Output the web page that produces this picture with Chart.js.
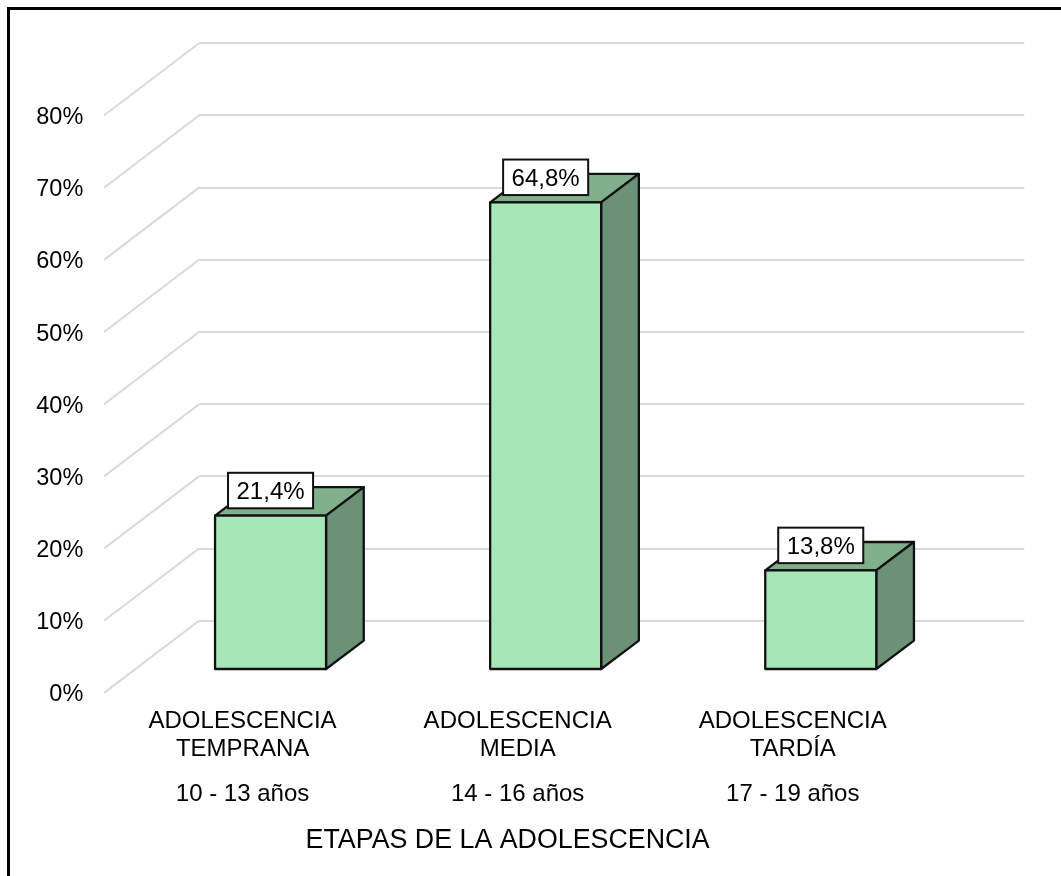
<!DOCTYPE html>
<html lang="es">
<head>
  <meta charset="UTF-8">
  <title>Etapas de la adolescencia</title>
  <style>
    body {
      margin: 0;
      background-color: #fff;
      overflow: hidden;
    }
    canvas {
      display: block;
    }
    .frame {
      position: absolute;
      left: 7px;
      top: 7px;
      right: 0;
      bottom: 0;
      border-left: 3px solid #000;
      border-top: 3px solid #000;
    }
  </style>
</head>
<body>
  <canvas id="chart" width="1061" height="876"></canvas>
  <div class="frame"></div>

  <script src="https://cdn.jsdelivr.net/npm/chart.js"></script>
  <script>
    const categories = [
      ['ADOLESCENCIA', 'TEMPRANA'],
      ['ADOLESCENCIA', 'MEDIA'],
      ['ADOLESCENCIA', 'TARDÍA']
    ];
    const ageRanges = ['10 - 13 años', '14 - 16 años', '17 - 19 años'];
    const percentages = [21.4, 64.8, 13.8];
    const axisTitle = 'ETAPAS DE LA ADOLESCENCIA';

    const FONT = 'Arial, "Liberation Sans", sans-serif';
    const FONT_SIZE = 24;
    const GRID = '#d9d9d9';
    const OUTLINE = '#111';

    // how far the front of the floor sits from the back wall
    const WALL_DX = 95;
    const WALL_DY = 72.2;
    // where the bar fronts sit compared to the back wall
    const BAR_DX = -66;
    const BAR_DY = 49.3;
    // depth of each bar
    const DEPTH_DX = 37.7;
    const DEPTH_DY = 28.4;

    function face(ctx, points, color) {
      ctx.beginPath();
      points.forEach((p, i) => i ? ctx.lineTo(p[0], p[1]) : ctx.moveTo(p[0], p[1]));
      ctx.closePath();
      if (color) {
        ctx.fillStyle = color;
        ctx.fill();
      }
      ctx.strokeStyle = OUTLINE;
      ctx.lineWidth = 2.3;
      ctx.lineJoin = 'round';
      ctx.stroke();
    }

    const fake3d = {
      id: 'fake3d',
      // side wall lines, going from the back wall to the front
      beforeDatasetsDraw(chart) {
        const ctx = chart.ctx;
        const y = chart.scales.y;
        ctx.save();
        ctx.strokeStyle = GRID;
        ctx.lineWidth = 2;
        y.ticks.forEach(t => {
          const py = y.getPixelForValue(t.value);
          ctx.beginPath();
          ctx.moveTo(y.right, py);
          ctx.lineTo(y.right - WALL_DX, py + WALL_DY);
          ctx.stroke();
        });
        ctx.restore();
      },
      // move the bars forward, and draw top and side first so the front covers them
      beforeDatasetDraw(chart) {
        const ctx = chart.ctx;
        ctx.save();
        ctx.translate(BAR_DX, BAR_DY);
        chart.getDatasetMeta(0).data.forEach(bar => {
          const left = bar.x - bar.width / 2;
          const right = bar.x + bar.width / 2;
          face(ctx, [
            [left, bar.y],
            [left + DEPTH_DX, bar.y - DEPTH_DY],
            [right + DEPTH_DX, bar.y - DEPTH_DY],
            [right, bar.y]
          ], '#80af8b');
          face(ctx, [
            [right, bar.y],
            [right + DEPTH_DX, bar.y - DEPTH_DY],
            [right + DEPTH_DX, bar.base - DEPTH_DY],
            [right, bar.base]
          ], '#6b9277');
        });
      },
      afterDatasetDraw(chart) {
        const ctx = chart.ctx;
        // outline goes on the bar edge, the library would inset it
        chart.getDatasetMeta(0).data.forEach(bar => {
          const left = bar.x - bar.width / 2;
          const right = bar.x + bar.width / 2;
          face(ctx, [[left, bar.y], [right, bar.y], [right, bar.base], [left, bar.base]]);
        });
        ctx.restore();
      },
      afterDraw(chart) {
        const ctx = chart.ctx;
        ctx.save();
        ctx.font = FONT_SIZE + 'px ' + FONT;
        ctx.textAlign = 'center';
        ctx.textBaseline = 'middle';

        // value boxes
        chart.getDatasetMeta(0).data.forEach((bar, i) => {
          const text = percentages[i].toFixed(1).replace('.', ',') + '%';
          const w = ctx.measureText(text).width + 17;
          const h = 35.5;
          const cx = bar.x + BAR_DX;
          const cy = bar.y + BAR_DY - 25;
          ctx.fillStyle = '#fff';
          ctx.fillRect(cx - w / 2, cy - h / 2, w, h);
          ctx.strokeStyle = OUTLINE;
          ctx.lineWidth = 2;
          ctx.strokeRect(cx - w / 2, cy - h / 2, w, h);
          ctx.fillStyle = '#000';
          ctx.fillText(text, cx, cy + 2);
        });

        // the axis title is not centred on the plot, so it goes here
        const x = chart.scales.x;
        ctx.font = '26.8px ' + FONT;
        ctx.fillStyle = '#000';
        ctx.fillText(axisTitle, (x.left + x.right) / 2 - 104, 841);
        ctx.restore();
      }
    };

    new Chart(document.getElementById('chart'), {
      type: 'bar',
      data: {
        labels: categories,
        datasets: [{
          data: percentages,
          backgroundColor: '#a6e6b7',
          borderWidth: 0,
          barThickness: 111,
          clip: false
        }]
      },
      plugins: [fake3d],
      options: {
        responsive: false,
        animation: false,
        layout: { padding: { top: 43.3, right: 36.7, left: 0, bottom: 0 } },
        plugins: {
          legend: { display: false },
          tooltip: { enabled: false }
        },
        scales: {
          y: {
            min: 0,
            max: 80,
            afterFit: scale => { scale.width = 199; },
            border: { display: false },
            // invisible tick marks push the labels over to the front wall
            grid: { color: GRID, lineWidth: 2, tickColor: 'transparent', tickLength: 113.7 },
            ticks: {
              stepSize: 10,
              padding: 2,
              labelOffset: WALL_DY + 2,
              color: '#000',
              font: { family: FONT, size: 23.5 },
              callback: value => value + '%'
            }
          },
          x: {
            weight: 0,
            afterFit: scale => { scale.height = 149; },
            border: { display: false },
            grid: { drawOnChartArea: false, tickColor: 'transparent', tickLength: 85 },
            ticks: {
              padding: 2,
              labelOffset: -94,
              autoSkip: false,
              maxRotation: 0,
              color: '#000',
              font: { family: FONT, size: FONT_SIZE, lineHeight: 1.15 }
            }
          },
          x2: {
            type: 'category',
            axis: 'x',
            position: 'bottom',
            weight: 1,
            labels: ageRanges,
            offset: true,
            afterFit: scale => { scale.height = 106.3; },
            border: { display: false },
            grid: { display: false },
            ticks: {
              padding: 3,
              labelOffset: -94,
              autoSkip: false,
              maxRotation: 0,
              color: '#000',
              font: { family: FONT, size: FONT_SIZE, lineHeight: 1.15 }
            }
          }
        }
      }
    });
  </script>
</body>
</html>
